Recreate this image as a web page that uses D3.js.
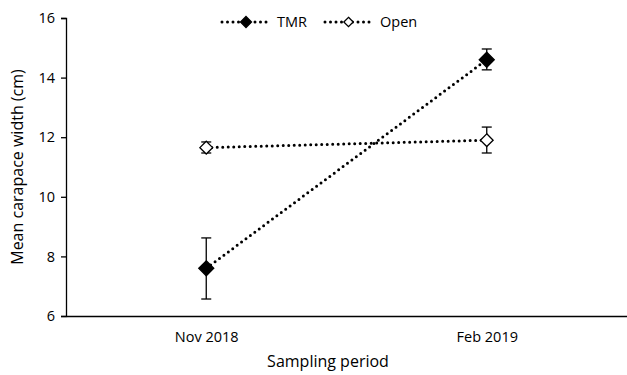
<!DOCTYPE html>
<html>
<head>
<meta charset="utf-8">
<script src="https://cdn.jsdelivr.net/npm/d3@7"></script>
<style>
  body { margin: 0; background: #fff; }
  text { font-family: "Open Sans", "Liberation Sans", sans-serif; fill: #000; }
</style>
</head>
<body>
<div id="chart"></div>
<script>
// Data
const periods = ["Nov 2018", "Feb 2019"];
const tmrMean = [7.6, 14.6];
const tmrLow = [6.57, 14.26];
const tmrHigh = [8.62, 14.96];
const openMean = [11.65, 11.9];
const openLow = [11.47, 11.47];
const openHigh = [11.84, 12.34];
const yTicks = [6, 8, 10, 12, 14, 16];

const width = 627;
const height = 375;
const margin = { top: 18, right: 0, bottom: 59, left: 66 };

const svg = d3.select("#chart")
    .append("svg")
    .attr("width", width)
    .attr("height", height);

const x = d3.scalePoint()
    .domain(periods)
    .range([margin.left, width - margin.right])
    .padding(0.5);

const y = d3.scaleLinear()
    .domain([6, 16])
    .range([height - margin.bottom, margin.top]);

// y axis
const yAxis = svg.append("g")
    .attr("transform", `translate(${margin.left},0)`)
    .call(d3.axisLeft(y).tickValues(yTicks).tickSize(5).tickPadding(6));
yAxis.select(".domain").attr("stroke", "#000").attr("stroke-width", 1.3);
yAxis.selectAll(".tick line").attr("stroke", "#000").attr("stroke-width", 1.3);
yAxis.selectAll(".tick text").style("font-size", "14.5px");

// x axis (no ticks)
const xAxis = svg.append("g")
    .attr("transform", `translate(0,${height - margin.bottom})`)
    .call(d3.axisBottom(x).tickSize(0).tickPadding(16));
xAxis.select(".domain").attr("stroke", "#000").attr("stroke-width", 1.3);
xAxis.selectAll(".tick text").style("font-size", "14.5px");

// axis titles
svg.append("text")
    .attr("x", 328)
    .attr("y", 367)
    .attr("text-anchor", "middle")
    .style("font-size", "16px")
    .text("Sampling period");

svg.append("text")
    .attr("transform", `translate(23,${(margin.top + height - margin.bottom) / 2}) rotate(-90)`)
    .attr("text-anchor", "middle")
    .style("font-size", "16px")
    .text("Mean carapace width (cm)");

const series = [
    { name: "TMR", mean: tmrMean, low: tmrLow, high: tmrHigh, fill: "#000", size: 10 },
    { name: "Open", mean: openMean, low: openLow, high: openHigh, fill: "#fff", size: 8.5 }
];

const line = d3.line()
    .x((d, i) => x(periods[i]))
    .y(d => y(d));

function diamond(g, cx, cy, r, fill) {
    g.append("path")
        .attr("d", `M${cx},${cy - r}L${cx + r},${cy}L${cx},${cy + r}L${cx - r},${cy}Z`)
        .attr("fill", fill)
        .attr("stroke", "#000")
        .attr("stroke-width", 1.3);
}

series.forEach(s => {
    const g = svg.append("g");

    g.append("path")
        .datum(s.mean)
        .attr("d", line)
        .attr("fill", "none")
        .attr("stroke", "#000")
        .attr("stroke-width", 3)
        .attr("stroke-linecap", "round")
        .attr("stroke-dasharray", "0,5.5");

    periods.forEach((p, i) => {
        const cx = x(p);
        g.append("line")
            .attr("x1", cx).attr("x2", cx)
            .attr("y1", y(s.low[i])).attr("y2", y(s.high[i]))
            .attr("stroke", "#000").attr("stroke-width", 1.3);
        [s.low[i], s.high[i]].forEach(v => {
            g.append("line")
                .attr("x1", cx - 5).attr("x2", cx + 5)
                .attr("y1", y(v)).attr("y2", y(v))
                .attr("stroke", "#000").attr("stroke-width", 1.3);
        });
        diamond(g, cx, y(s.mean[i]), s.size * 0.75, s.fill);
    });
});

// legend
const legend = svg.append("g").attr("transform", "translate(0,22)");
const legendItems = [
    { s: series[0], x0: 222, x1: 270, tx: 277 },
    { s: series[1], x0: 325, x1: 372, tx: 380 }
];
legendItems.forEach(item => {
    legend.append("line")
        .attr("x1", item.x0).attr("x2", item.x1)
        .attr("y1", 0).attr("y2", 0)
        .attr("stroke", "#000")
        .attr("stroke-width", 3)
        .attr("stroke-linecap", "round")
        .attr("stroke-dasharray", "0,5.5");
    diamond(legend, (item.x0 + item.x1) / 2, 0, item.s.size * 0.55, item.s.fill);
    legend.append("text")
        .attr("x", item.tx)
        .attr("y", 5)
        .style("font-size", "14.5px")
        .text(item.s.name);
});
</script>
</body>
</html>
